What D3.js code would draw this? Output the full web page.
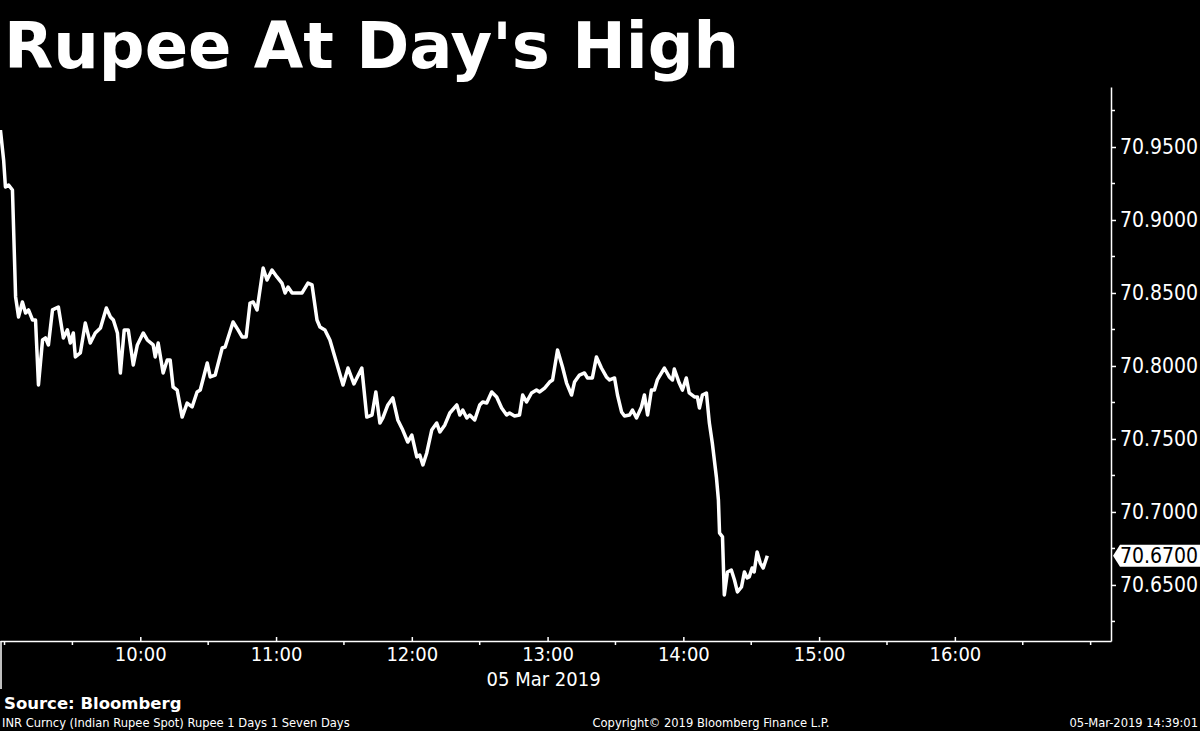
<!DOCTYPE html>
<html>
<head>
<meta charset="utf-8">
<title>Rupee At Day's High</title>
<script src="https://cdn.jsdelivr.net/npm/d3@7"></script>
<style>
  html, body { margin: 0; padding: 0; background: #000; }
  svg { display: block; }
</style>
</head>
<body>
<div id="chart"></div>
<script>
// INR spot, 05 Mar 2019 - minutes after 09:00 and the rate at that moment
const minutes = [
  -1.8, -0.4, 0.4, 1.8, 3.5, 4.9, 6.2, 7.9, 9.3, 10.6, 12.4, 13.7, 15.0, 16.8, 18.1, 19.4,
  21.2, 23.8, 26.0, 27.8, 29.1, 30.4, 31.3, 33.5, 35.7, 37.9, 40.1, 42.4, 45.0, 46.8, 48.1, 49.9,
  51.2, 52.9, 54.7, 56.9, 58.7, 61.3, 63.1, 65.7, 66.6, 67.9, 70.1, 71.9, 73.2, 74.5, 76.3, 78.5,
  80.7, 82.9, 85.1, 86.5, 89.6, 90.9, 93.1, 96.2, 97.5, 101.0, 103.2, 105.0, 106.8, 108.5, 109.9, 111.6,
  114.3, 116.0, 118.2, 120.4, 122.6, 124.0, 125.3, 127.1, 129.3, 131.5, 134.1, 135.9, 138.1, 139.4, 141.6, 143.8,
  146.0, 149.6, 151.8, 154.4, 157.9, 160.1, 162.4, 164.1, 165.9, 167.2, 169.4, 171.6, 173.8, 176.0, 178.2, 180.0,
  182.2, 183.5, 184.9, 186.6, 188.8, 191.0, 192.4, 194.6, 196.8, 199.9, 201.2, 202.5, 204.3, 205.6, 207.8, 210.0,
  211.3, 213.1, 215.3, 217.5, 219.7, 221.9, 223.2, 225.4, 227.6, 229.0, 230.7, 232.9, 235.1, 236.5, 238.7, 240.9,
  242.2, 244.4, 246.6, 248.4, 250.6, 251.9, 254.1, 256.3, 257.6, 259.8, 261.6, 263.8, 266.0, 267.4, 269.6, 270.9,
  272.7, 274.0, 276.2, 277.5, 279.3, 281.5, 282.8, 284.2, 285.9, 287.2, 288.5, 291.6, 293.8, 295.2, 296.0, 298.2,
  299.6, 301.3, 302.6, 304.9, 306.2, 307.1, 308.4, 310.2, 311.5, 312.8, 314.6, 315.5, 316.0, 317.3, 318.1, 319.5,
  321.2, 322.6, 323.9, 325.7, 327.0, 328.2, 329.1, 330.4, 331.3, 332.6, 334.0, 335.3, 337.1
];

const rates = [
  70.9616, 70.9411, 70.9226, 70.9240, 70.9205, 70.8473, 70.8336, 70.8438, 70.8363, 70.8384, 70.8315, 70.8315, 70.7870, 70.8178, 70.8192, 70.8144,
  70.8384, 70.8404, 70.8192, 70.8247, 70.8157, 70.8226, 70.8062, 70.8089, 70.8294, 70.8157, 70.8226, 70.8260, 70.8397, 70.8336, 70.8315, 70.8226,
  70.7952, 70.8247, 70.8247, 70.8007, 70.8144, 70.8226, 70.8178, 70.8144, 70.8062, 70.8157, 70.7952, 70.8041, 70.8041, 70.7856, 70.7835, 70.7650,
  70.7746, 70.7719, 70.7822, 70.7835, 70.8020, 70.7925, 70.7938, 70.8123, 70.8130, 70.8301, 70.8247, 70.8199, 70.8199, 70.8431, 70.8438, 70.8384,
  70.8671, 70.8589, 70.8657, 70.8610, 70.8568, 70.8500, 70.8541, 70.8500, 70.8500, 70.8500, 70.8568, 70.8555, 70.8315, 70.8267, 70.8247, 70.8178,
  70.8062, 70.7870, 70.7986, 70.7877, 70.7986, 70.7650, 70.7664, 70.7822, 70.7609, 70.7644, 70.7733, 70.7781, 70.7630, 70.7561, 70.7479, 70.7527,
  70.7377, 70.7390, 70.7322, 70.7404, 70.7561, 70.7609, 70.7548, 70.7596, 70.7678, 70.7733, 70.7664, 70.7698, 70.7644, 70.7664, 70.7630, 70.7733,
  70.7753, 70.7746, 70.7822, 70.7788, 70.7712, 70.7664, 70.7678, 70.7657, 70.7664, 70.7801, 70.7753, 70.7815, 70.7835, 70.7822, 70.7849, 70.7890,
  70.7904, 70.8109, 70.7993, 70.7883, 70.7801, 70.7890, 70.7938, 70.7952, 70.7918, 70.7918, 70.8062, 70.7986, 70.7925, 70.7904, 70.7918, 70.7801,
  70.7685, 70.7657, 70.7664, 70.7698, 70.7644, 70.7719, 70.7801, 70.7664, 70.7835, 70.7835, 70.7904, 70.7986, 70.7925, 70.7904, 70.7979, 70.7883,
  70.7835, 70.7918, 70.7815, 70.7788, 70.7788, 70.7712, 70.7801, 70.7815, 70.7609, 70.7472, 70.7240, 70.7082, 70.6856, 70.6829, 70.6431, 70.6589,
  70.6602, 70.6534, 70.6452, 70.6486, 70.6589, 70.6548, 70.6555, 70.6616, 70.6589, 70.6726, 70.6650, 70.6616, 70.6700
];

const lastPrice = 70.6700;

// axis labels and marks
const yTickValues = [70.65, 70.70, 70.75, 70.80, 70.85, 70.90, 70.95];
const yMinorValues = [70.625, 70.675, 70.725, 70.775, 70.825, 70.875, 70.925, 70.975];
const hourLabels = ['10:00', '11:00', '12:00', '13:00', '14:00', '15:00', '16:00'];
const minorTimes = ['09:00', '09:30', '10:30', '11:30', '12:30', '13:30', '14:30', '15:30', '16:30', '17:00'];

(function() {
  const W = 1200, H = 731;
  const plotLeft = 0, plotRight = 1111, plotTop = 87, plotBottom = 641;
  const font = "'DejaVu Sans Condensed', 'DejaVu Sans', sans-serif";
  const wideFont = "'DejaVu Sans', sans-serif";

  const svg = d3.select('#chart')
    .append('svg')
    .attr('width', W)
    .attr('height', H)
    .style('background', '#000');

  const day = new Date(2019, 2, 5, 9, 0);
  const atMinute = m => new Date(day.getTime() + m * 60000);
  const parseHM = d3.timeParse('%Y-%m-%d %H:%M');
  const atClock = s => parseHM('2019-03-05 ' + s);

  const data = minutes.map((m, i) => ({ date: atMinute(m), value: rates[i] }));

  // scales
  const x = d3.scaleTime()
    .domain([atClock('08:58'), atClock('17:09')])
    .range([plotLeft, plotRight]);

  const y = d3.scaleLinear()
    .domain([70.6116, 70.9911])
    .range([plotBottom, plotTop]);

  // title
  svg.append('text')
    .attr('x', 4)
    .attr('y', 68)
    .style('font-family', wideFont)
    .style('font-weight', 'bold')
    .style('font-size', '64px')
    .style('fill', '#fff')
    .text("Rupee At Day's High");

  // right value axis
  const yAxis = svg.append('g')
    .attr('transform', `translate(${plotRight}, 0)`)
    .call(d3.axisRight(y)
      .tickValues(yTickValues)
      .tickSizeInner(5)
      .tickSizeOuter(0)
      .tickPadding(4)
      .tickFormat(d3.format('.4f')));

  yAxis.select('.domain').attr('stroke', '#fff').attr('stroke-width', 1.5);
  yAxis.selectAll('.tick line').attr('stroke', '#fff').attr('stroke-width', 1.5);
  yAxis.selectAll('.tick text')
    .style('font-family', font)
    .style('font-stretch', 'condensed')
    .style('font-size', '21px')
    .style('fill', '#fff');

  svg.append('g')
    .selectAll('line')
    .data(yMinorValues)
    .enter()
    .append('line')
    .attr('x1', plotRight)
    .attr('x2', plotRight + 4)
    .attr('y1', d => y(d))
    .attr('y2', d => y(d))
    .attr('stroke', '#fff')
    .attr('stroke-width', 1.5);

  // bottom time axis: labelled hours get a small tick upward
  const hourDates = hourLabels.map(atClock);
  const xAxis = svg.append('g')
    .attr('transform', `translate(0, ${plotBottom})`)
    .call(d3.axisBottom(x)
      .tickValues(hourDates)
      .tickSizeInner(-4)
      .tickSizeOuter(0)
      .tickPadding(6)
      .tickFormat(d3.timeFormat('%H:%M')));

  xAxis.select('.domain').attr('stroke', '#fff').attr('stroke-width', 1.5);
  xAxis.selectAll('.tick line').attr('stroke', '#fff').attr('stroke-width', 1.5);
  xAxis.selectAll('.tick text')
    .style('font-family', font)
    .style('font-stretch', 'condensed')
    .style('font-size', '20px')
    .style('fill', '#fff');

  // unlabelled half hours get a tick downward
  svg.append('g')
    .selectAll('line')
    .data(minorTimes.map(atClock))
    .enter()
    .append('line')
    .attr('x1', d => x(d))
    .attr('x2', d => x(d))
    .attr('y1', plotBottom)
    .attr('y2', plotBottom + 4)
    .attr('stroke', '#fff')
    .attr('stroke-width', 1.5);

  // day separator at the left edge
  svg.append('line')
    .attr('x1', plotLeft + 1)
    .attr('x2', plotLeft + 1)
    .attr('y1', plotBottom)
    .attr('y2', plotBottom + 48)
    .attr('stroke', '#fff')
    .attr('stroke-width', 1.5);

  svg.append('text')
    .attr('x', x(atClock('13:00')) - 4)
    .attr('y', 686)
    .attr('text-anchor', 'middle')
    .style('font-family', font)
    .style('font-stretch', 'condensed')
    .style('font-size', '20px')
    .style('fill', '#fff')
    .text('05 Mar 2019');

  // price line
  const line = d3.line()
    .x(d => x(d.date))
    .y(d => y(d.value));

  svg.append('path')
    .datum(data)
    .attr('d', line)
    .attr('fill', 'none')
    .attr('stroke', '#fff')
    .attr('stroke-width', 3.5)
    .attr('stroke-linejoin', 'round');

  // last price tag on the axis
  const ly = y(lastPrice);
  const tag = svg.append('g');
  tag.append('path')
    .attr('d', `M${plotRight + 2},${ly} L${plotRight + 9},${ly - 11} L${W},${ly - 11} L${W},${ly + 11} L${plotRight + 9},${ly + 11} Z`)
    .attr('fill', '#fff');
  tag.append('text')
    .attr('x', plotRight + 9)
    .attr('y', ly)
    .attr('dy', '0.36em')
    .style('font-family', font)
    .style('font-stretch', 'condensed')
    .style('font-size', '21px')
    .style('fill', '#000')
    .text(d3.format('.4f')(lastPrice));

  // footer
  svg.append('text')
    .attr('x', 4)
    .attr('y', 709)
    .style('font-family', wideFont)
    .style('font-weight', 'bold')
    .style('font-size', '16.5px')
    .style('fill', '#fff')
    .text('Source: Bloomberg');

  const foot = [
    { x: 2, anchor: 'start', text: 'INR Curncy (Indian Rupee Spot) Rupee 1 Days 1 Seven Days' },
    { x: 711, anchor: 'middle', text: 'Copyright\u00A9 2019 Bloomberg Finance L.P.' },
    { x: 1198, anchor: 'end', text: '05-Mar-2019 14:39:01' }
  ];

  svg.selectAll('.foot')
    .data(foot)
    .enter()
    .append('text')
    .attr('class', 'foot')
    .attr('x', d => d.x)
    .attr('y', 727)
    .attr('text-anchor', d => d.anchor)
    .style('font-family', font)
    .style('font-stretch', 'condensed')
    .style('font-size', '12.8px')
    .style('fill', '#fff')
    .text(d => d.text);
})();
</script>
</body>
</html>
